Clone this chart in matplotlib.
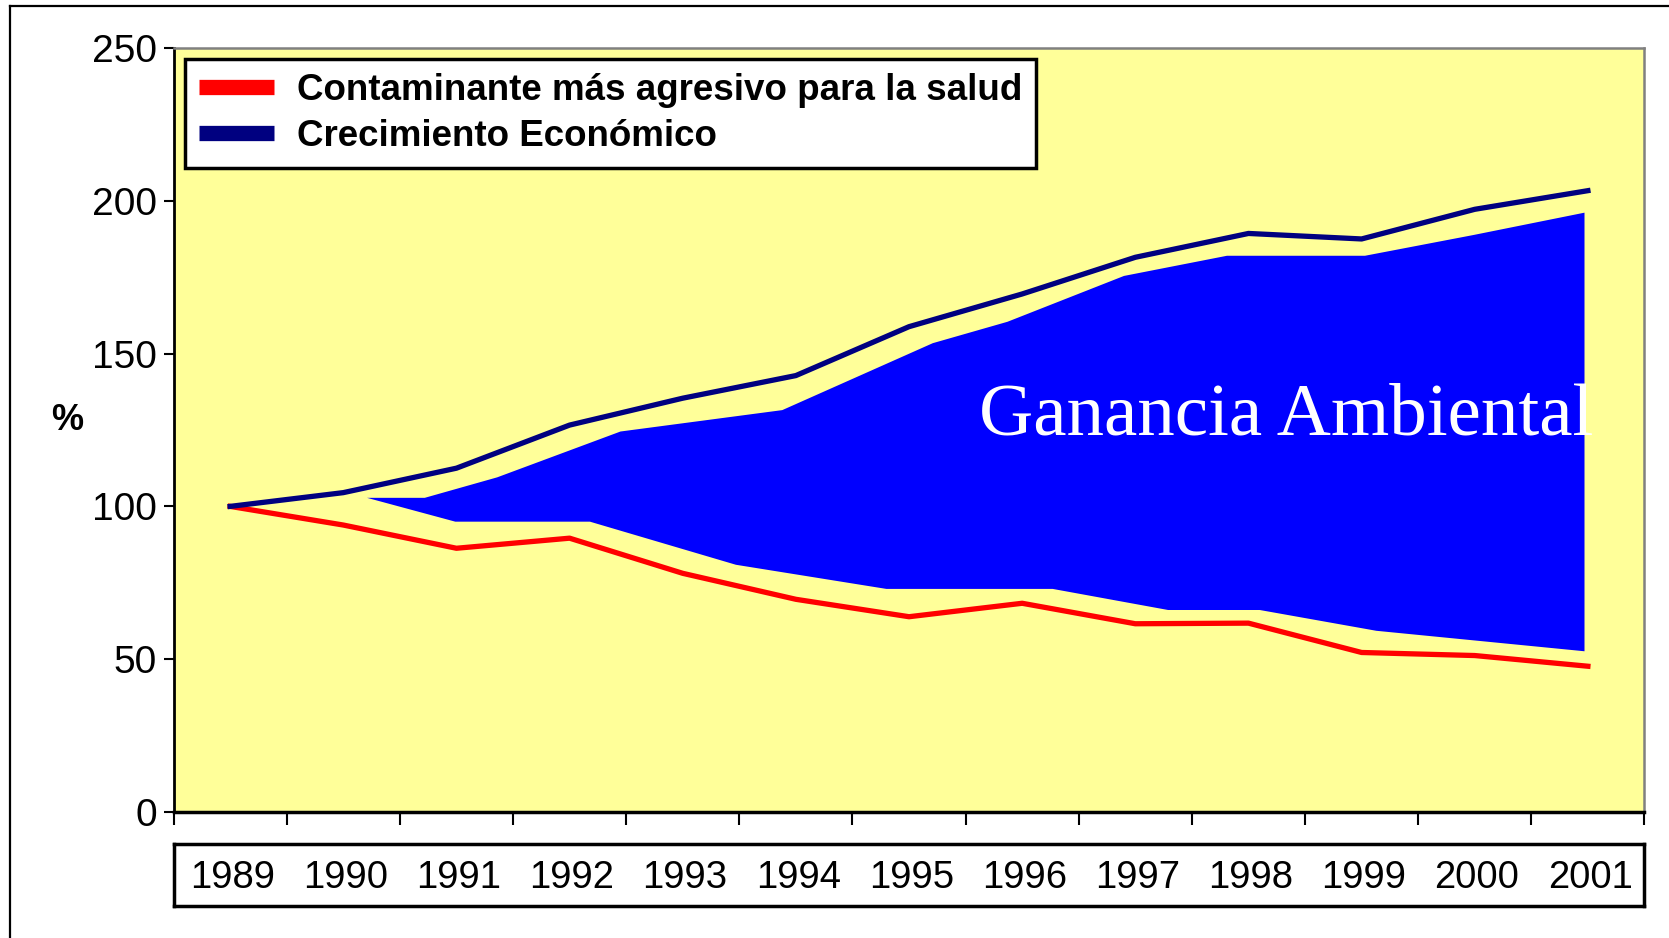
import matplotlib
matplotlib.use('Agg')
import matplotlib.pyplot as plt
from matplotlib.lines import Line2D
import numpy as np

# ---------------- data ----------------
years = ['1989', '1990', '1991', '1992', '1993', '1994', '1995',
         '1996', '1997', '1998', '1999', '2000', '2001']
crecimiento = [100, 104.5, 112.5, 126.6, 135.4, 142.8, 158.8,
               169.5, 181.5, 189.3, 187.5, 197.2, 203.3]
contaminante = [100, 93.9, 86.3, 89.6, 78.1, 69.6, 63.9,
                68.3, 61.6, 61.8, 52.2, 51.2, 47.7]

# "Ganancia Ambiental" band (hand-drawn shape, x in category positions)
gain_upper_x = [1.21, 1.72, 2.36, 3.45, 4.88, 6.21, 6.87, 7.90, 8.81, 10.03, 10.99, 11.97]
gain_upper_y = [102.8, 102.8, 109.5, 124.5, 131.5, 153.4, 160.4, 175.4, 182.0, 182.0, 188.8, 196.1]
gain_lower_x = [1.21, 1.99, 3.18, 4.47, 5.80, 7.27, 8.29, 9.10, 10.13, 11.97]
gain_lower_y = [102.8, 95.0, 95.0, 80.9, 73.0, 73.0, 66.1, 66.1, 59.3, 52.6]

yticks = [0, 50, 100, 150, 200, 250]
label_contaminante = 'Contaminante más agresivo para la salud'
label_crecimiento = 'Crecimiento Económico'
band_label = 'Ganancia Ambiental'

# ---------------- figure ----------------
plt.rcParams['font.family'] = ['Liberation Sans', 'DejaVu Sans']

fig = plt.figure(figsize=(16.69, 9.38), dpi=100)
fig.patch.set_facecolor('white')

ax = fig.add_axes([0.104, 0.1343, 0.8813, 0.8146])
ax.set_facecolor('#FFFF99')

x = np.arange(len(years))
poly_x = gain_upper_x + gain_lower_x[::-1]
poly_y = gain_upper_y + gain_lower_y[::-1]
poly = ax.fill(poly_x, poly_y, color='#0000FF', lw=0, zorder=2)[0]

ax.plot(x, contaminante, color='#FF0000', lw=3.8, zorder=3)
ax.plot(x, crecimiento, color='#000080', lw=3.8, zorder=3)

t = ax.text(6.62, 123.6, band_label, color='white', fontsize=54,
            family=['Liberation Serif', 'DejaVu Serif'],
            ha='left', va='baseline', zorder=4)
t.set_clip_path(poly)
t.set_clip_on(True)

ax.set_xlim(-0.5, len(years) - 0.5)
ax.set_ylim(0, 250)
ax.set_xticks(np.arange(-0.5, len(years), 1.0))
ax.set_xticklabels([])
ax.tick_params(axis='x', direction='out', length=9, width=1.5, color='black')
ax.set_yticks(yticks)
ax.set_yticklabels([str(v) for v in yticks])
ax.tick_params(axis='y', direction='out', length=7, width=1.5, pad=5,
               labelsize=28, color='black')

ax.spines['left'].set_color('black')
ax.spines['left'].set_linewidth(2)
ax.spines['bottom'].set_color('black')
ax.spines['bottom'].set_linewidth(2.5)
ax.spines['top'].set_color('#808080')
ax.spines['top'].set_linewidth(1.8)
ax.spines['right'].set_color('#808080')
ax.spines['right'].set_linewidth(1.8)

handles = [Line2D([], [], color='#FF0000', lw=11, solid_capstyle='butt'),
           Line2D([], [], color='#000080', lw=11, solid_capstyle='butt')]
leg = ax.legend(handles, [label_contaminante, label_crecimiento],
                loc='upper left', bbox_to_anchor=(0.0078, 0.986),
                borderaxespad=0, prop={'weight': 'bold', 'size': 26.5},
                frameon=True, fancybox=False, edgecolor='black',
                handlelength=2.05, handletextpad=0.6, borderpad=0.38,
                labelspacing=0.3, framealpha=1)
leg.get_frame().set_linewidth(2.5)
leg.get_frame().set_facecolor('white')
leg.set_zorder(5)

# year labels box
ax2 = fig.add_axes([0.104, 0.0341, 0.8813, 0.0661])
ax2.set_xlim(-0.5, len(years) - 0.5)
ax2.set_ylim(0, 1)
ax2.set_xticks([])
ax2.set_yticks([])
for s in ax2.spines.values():
    s.set_color('black')
    s.set_linewidth(2.5)
for i, yr in enumerate(years):
    ax2.text(i + 0.02, 0.45, yr, ha='center', va='center', fontsize=27.5)

fig.text(0.0401, 0.5522, '%', fontsize=26, weight='bold', ha='center', va='center')

# outer frame
fig.add_artist(Line2D([0.00575, 1.0], [0.9932, 0.9932], transform=fig.transFigure,
                      color='black', lw=1.6))
fig.add_artist(Line2D([0.00575, 0.00575], [0.0, 0.9932], transform=fig.transFigure,
                      color='black', lw=1.6))

fig.savefig('out.png', dpi=100, facecolor='white')
